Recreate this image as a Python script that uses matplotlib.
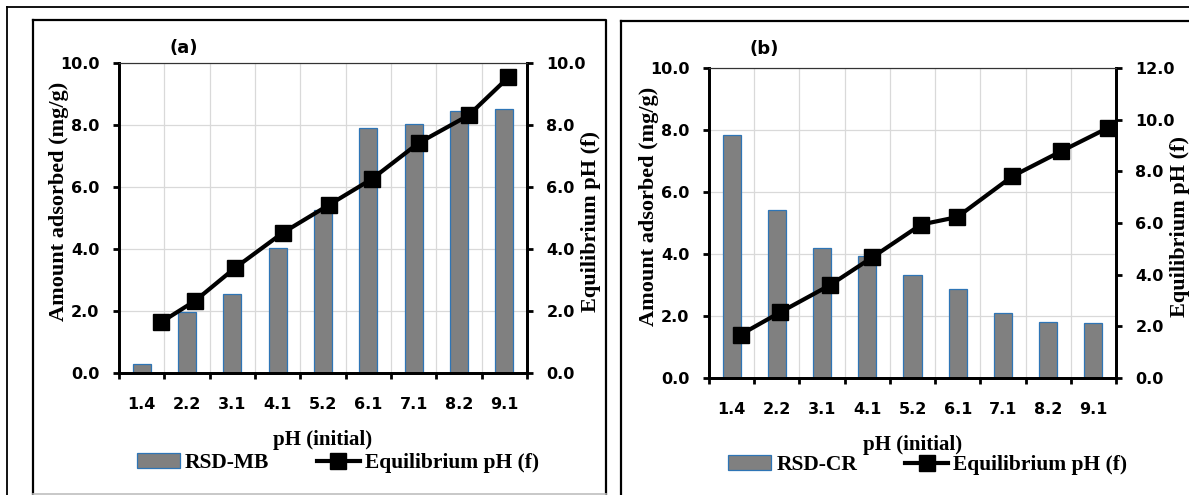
import matplotlib
matplotlib.use("Agg")
import matplotlib.pyplot as plt
from matplotlib.ticker import FixedLocator, FormatStrFormatter

# ── Data ──────────────────────────────────────────────
ph_labels = ["1.4", "2.2", "3.1", "4.1", "5.2", "6.1", "7.1", "8.2", "9.1"]

# panel (a) : RSD-MB
mb_adsorbed = [0.30, 1.98, 2.55, 4.04, 5.26, 7.89, 8.03, 8.46, 8.51]
mb_ph_x     = [1.42, 2.18, 3.06, 4.11, 5.14, 6.08, 7.11, 8.21, 9.09]
mb_eq_ph    = [1.63, 2.33, 3.39, 4.52, 5.43, 6.26, 7.42, 8.31, 9.54]

# panel (b) : RSD-CR
cr_adsorbed = [7.83, 5.42, 4.19, 3.94, 3.32, 2.87, 2.09, 1.81, 1.77]
cr_ph_x     = [1.20, 2.07, 3.18, 4.11, 5.19, 5.99, 7.21, 8.28, 9.32]
cr_eq_ph    = [1.68, 2.54, 3.60, 4.67, 5.94, 6.23, 7.81, 8.77, 9.68]

# ── Style ─────────────────────────────────────────────
W, H = 1189, 495
SERIF = "Liberation Serif"
SANS = "DejaVu Sans"
BAR_FILL = "#808080"
BAR_EDGE = "#2E75B6"
GRID = "#D9D9D9"

fig = plt.figure(figsize=(W / 100, H / 100), dpi=100)

# frames around the panels (pixel coords)
bg = fig.add_axes([0, 0, 1, 1], zorder=-10)
bg.set_xlim(0, W)
bg.set_ylim(H, 0)
bg.axis("off")
bg.plot([7, W], [7, 7], color="black", lw=1.3)
bg.plot([7, 7], [7, H], color="black", lw=1.3)
bg.plot([33, 606, 606], [20, 20, H], color="black", lw=1.6)
bg.plot([33, 33], [20, H], color="black", lw=1.6)
bg.plot([33, 606], [494, 494], color="#BFBFBF", lw=1.2)
bg.plot([621, W], [21, 21], color="black", lw=1.6)
bg.plot([621, 621], [21, H], color="black", lw=1.6)


def px_rect(left, top, right, bottom):
    return [left / W, 1 - bottom / H, (right - left) / W, (bottom - top) / H]


def panel(rect, bars, line_x, line_y, bar_name, right_max, tag, tag_xy, leg_xy):
    ax = fig.add_axes(rect)
    ax2 = ax.twinx()
    pos = list(range(1, len(ph_labels) + 1))

    ax.bar(pos, bars, width=0.40, color=BAR_FILL, edgecolor=BAR_EDGE,
           linewidth=0.9, label=bar_name, zorder=2)
    ax2.plot(line_x, line_y, color="black", lw=3, marker="s",
             markersize=12, label="Equilibrium pH (f)", zorder=3)

    ax.set_xlim(0.5, len(ph_labels) + 0.5)
    ax.set_ylim(0, 10)
    ax2.set_ylim(0, right_max)

    # category labels centred, tick marks on the boundaries
    ax.set_xticks(pos)
    ax.set_xticklabels(ph_labels)
    ax.xaxis.set_minor_locator(FixedLocator([p - 0.5 for p in pos] + [pos[-1] + 0.5]))
    ax.tick_params(axis="x", which="major", length=0, pad=17)
    ax.tick_params(axis="x", which="minor", length=4.5, width=2, direction="out")
    ax.grid(True, axis="x", which="minor", color=GRID, lw=0.9)
    ax.grid(True, axis="y", which="major", color=GRID, lw=0.9)
    ax.set_axisbelow(True)

    ax.set_yticks(range(0, 11, 2))
    ax2.set_yticks(range(0, right_max + 1, 2))
    ax.yaxis.set_major_formatter(FormatStrFormatter("%.1f"))
    ax2.yaxis.set_major_formatter(FormatStrFormatter("%.1f"))
    ax.tick_params(axis="y", length=4, width=2, direction="out", pad=10)
    ax2.tick_params(axis="y", length=4, width=2, direction="out", pad=10)

    for a in (ax, ax2):
        for lbl in a.get_xticklabels() + a.get_yticklabels():
            lbl.set_fontfamily(SANS)
            lbl.set_fontweight("bold")
            lbl.set_fontsize(11.5)
        for s in ("left", "bottom", "right"):
            a.spines[s].set_linewidth(2)
        a.spines["top"].set_linewidth(0.8)
        a.spines["top"].set_color("#333333")

    ax.set_xlabel("pH (initial)", fontfamily=SERIF, fontweight="bold",
                  fontsize=15)
    ax.xaxis.set_label_coords(0.5, -0.216)
    ax.xaxis.label.set_va("center")
    ax.set_ylabel("Amount adsorbed (mg/g)", fontfamily=SERIF,
                  fontweight="bold", fontsize=16, va="center")
    ax.yaxis.set_label_coords(-0.147, 0.555)
    ax2.set_ylabel("Equilibrium pH (f)", fontfamily=SERIF, fontweight="bold",
                   fontsize=16, va="center", rotation=90)
    ax2.yaxis.set_label_coords(1.157, 0.49)

    fig.text(tag_xy[0] / W, 1 - tag_xy[1] / H, tag, fontfamily=SANS,
             fontweight="bold", fontsize=13, ha="center", va="center")

    h1, l1 = ax.get_legend_handles_labels()
    h2, l2 = ax2.get_legend_handles_labels()
    ax.legend(h1 + h2, l1 + l2, loc="center", ncol=2, frameon=False,
              bbox_to_anchor=(leg_xy[0] / W, 1 - leg_xy[1] / H),
              bbox_transform=fig.transFigure,
              prop={"family": SERIF, "weight": "bold", "size": 15.5},
              handlelength=2.0, handletextpad=0.25, columnspacing=2.2,
              borderaxespad=0)
    return ax, ax2


panel(px_rect(119, 63, 527, 373), mb_adsorbed, mb_ph_x, mb_eq_ph,
      "RSD-MB", 10, "(a)", (184, 48), (338, 463))
panel(px_rect(709, 68, 1116, 378), cr_adsorbed, cr_ph_x, cr_eq_ph,
      "RSD-CR", 12, "(b)", (764, 49), (928, 465))

fig.savefig("out.png", dpi=100)
